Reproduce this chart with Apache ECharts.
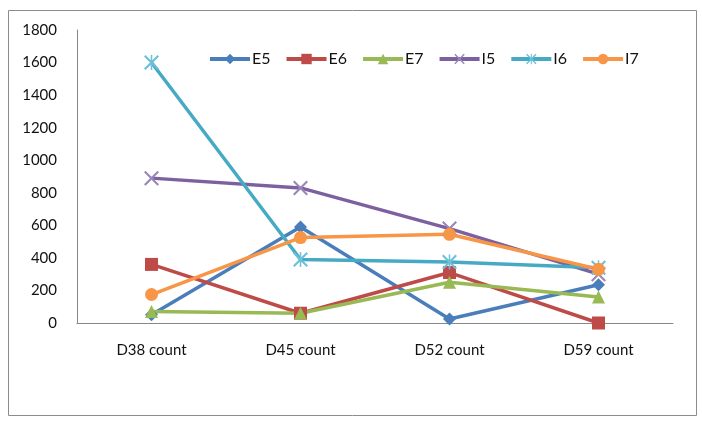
<!DOCTYPE html>
<html><head><meta charset="utf-8">
<script src="https://cdn.jsdelivr.net/npm/echarts@6/dist/echarts.min.js"></script>
<style>html,body{margin:0;padding:0;background:#fff}#c{width:702px;height:426px}</style>
</head><body><div id="c"></div>
<script>
var categories = ['D38 count','D45 count','D52 count','D59 count'];
var E5 = [50, 590, 25, 235];
var E6 = [360, 60, 310, 0];
var E7 = [70, 60, 250, 160];
var I5 = [890, 830, 580, 300];
var I6 = [1600, 390, 375, 340];
var I7 = [175, 525, 545, 330];
var yTicks = [0,200,400,600,800,1000,1200,1400,1600,1800];

var xPath = 'path://M1,0L5,4L9,0L10,1L6,5L10,9L9,10L5,6L1,10L0,9L4,5L0,1Z';
var starPath = 'path://M1,0L5,4L9,0L10,1L6,5L10,9L9,10L5,6L1,10L0,9L4,5L0,1ZM4.5,0L5.5,0L5.5,10L4.5,10Z';
var font = 'Lato, "Liberation Sans", sans-serif';

function mk(name, data, color, symbol, size, symColor){
  return {name:name, type:'line', data:data, symbol:symbol, symbolSize:size,
    lineStyle:{width:3.5, color:color}, itemStyle:{color:symColor||color},
    emphasis:{disabled:true}, animation:false};
}
var chart = echarts.init(document.getElementById('c'));
chart.setOption({
  backgroundColor:'#fff',
  animation:false,
  graphic:[{type:'rect', shape:{x:8.5,y:10.5,width:688,height:405}, style:{fill:'none', stroke:'#8c8c8c', lineWidth:1}, silent:true}],
  grid:{left:77, right:29, top:30, bottom:103},
  legend:{top:46, left:203, itemWidth:40, itemHeight:13, itemGap:14,
    lineStyle:{width:4},
    textStyle:{fontFamily:font, fontSize:16, color:'#111', padding:[0,0,0,-3]},
    data:['E5','E6','E7','I5','I6','I7']},
  xAxis:{type:'category', data:categories, boundaryGap:true,
    axisLine:{lineStyle:{color:'#878787', width:1}}, axisTick:{show:false},
    axisLabel:{fontFamily:font, fontSize:15, color:'#111', margin:20}},
  yAxis:{type:'value', min:0, max:1800, interval:200, splitLine:{show:false},
    axisLine:{show:true, lineStyle:{color:'#878787', width:1}}, axisTick:{show:false},
    axisLabel:{fontFamily:font, fontSize:15, color:'#111', margin:20,
      formatter:function(v){return yTicks.indexOf(v)>=0?String(v):'';}}},
  series:[
    mk('E5', E5, '#4a7ebb', 'diamond', 13),
    mk('E6', E6, '#be4b48', 'rect', 13),
    mk('E7', E7, '#98b954', 'triangle', 13),
    mk('I5', I5, '#7d60a0', xPath, 15, '#9a86b8'),
    mk('I6', I6, '#46aac5', starPath, 15, '#6cc0d8'),
    mk('I7', I7, '#f79646', 'circle', 13)
  ]
});
</script></body></html>
